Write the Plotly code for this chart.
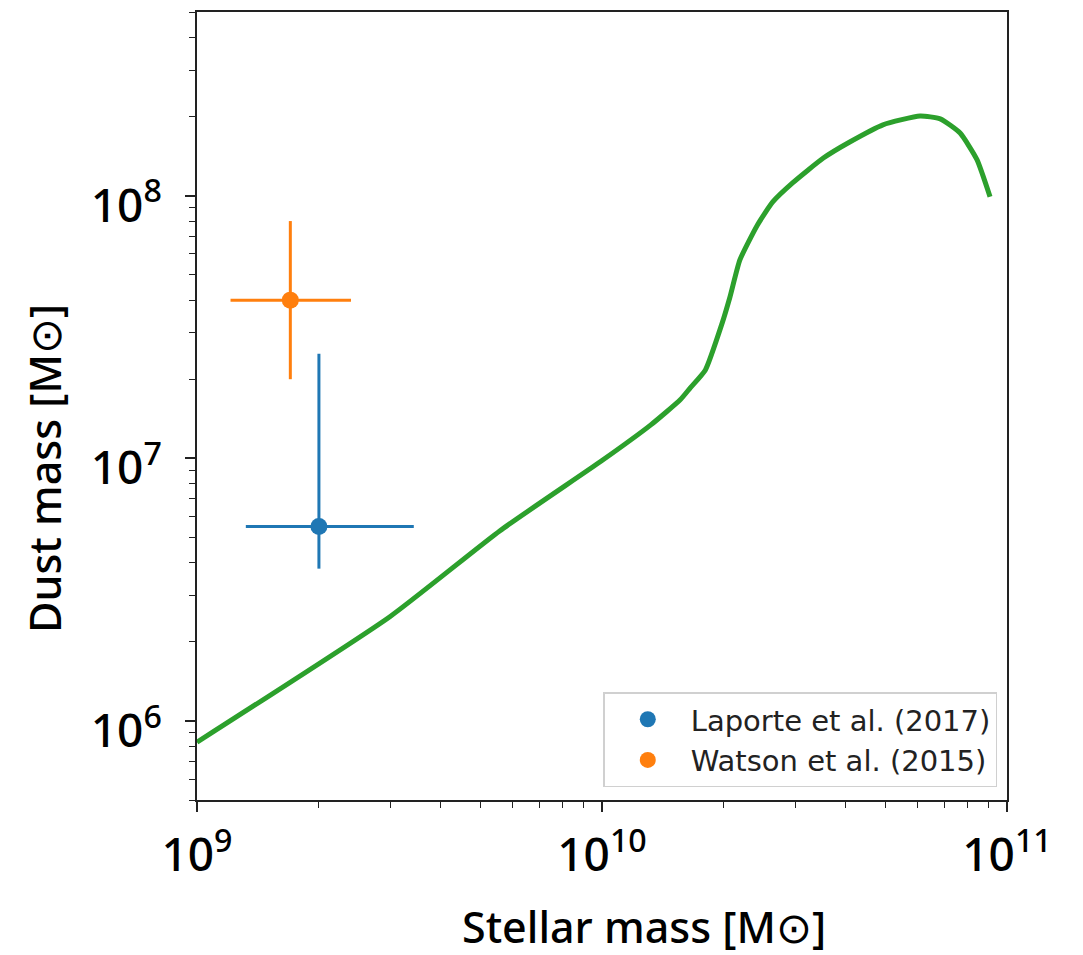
import plotly.graph_objects as go

# Model curve (green)
model_stellar = [1.0e9, 3.0e9, 5.6e9, 1.0e10, 1.32e10, 1.56e10, 1.65e10, 1.8e10, 1.98e10, 2.07e10,
                 2.19e10, 2.42e10, 2.64e10, 2.96e10, 3.52e10, 4.09e10, 4.94e10, 6.1e10, 6.84e10,
                 7.66e10, 8.43e10, 9.08e10]
model_dust = [8.3e5, 2.5e6, 5.3e6, 9.8e6, 1.34e7, 1.67e7, 1.85e7, 2.17e7, 3.27e7, 4.11e7,
              5.69e7, 7.73e7, 9.46e7, 1.12e8, 1.39e8, 1.60e8, 1.86e8, 2.01e8, 1.96e8,
              1.73e8, 1.37e8, 9.9e7]

# Observations
laporte_x = [2.0e9]
laporte_y = [5.5e6]
laporte_xerr_plus = [1.43e9]
laporte_xerr_minus = [0.68e9]
laporte_yerr_plus = [1.95e7]
laporte_yerr_minus = [1.7e6]

watson_x = [1.7e9]
watson_y = [4.0e7]
watson_xerr_plus = [0.7e9]
watson_xerr_minus = [0.49e9]
watson_yerr_plus = [4.0e7]
watson_yerr_minus = [2.0e7]

x_ticks = [1e9, 1e10, 1e11]
x_ticktext = ["10<sup>9</sup>", "10<sup>10</sup>", "10<sup>11</sup>"]
y_ticks = [1e6, 1e7, 1e8]
y_ticktext = ["10<sup>6</sup>", "10<sup>7</sup>", "10<sup>8</sup>"]

x_title = "Stellar mass [M⊙]"
y_title = "Dust mass [M⊙]"

blue = "#1f77b4"
orange = "#ff7f0e"
green = "#2ca02c"

fig = go.Figure()
fig.add_trace(go.Scatter(x=model_stellar, y=model_dust, mode="lines",
                         line=dict(color=green, width=5, shape="spline", smoothing=0.5),
                         showlegend=False))
fig.add_trace(go.Scatter(x=laporte_x, y=laporte_y, mode="markers", name="Laporte et al. (2017)",
                         marker=dict(color=blue, size=17),
                         error_x=dict(type="data", array=laporte_xerr_plus, arrayminus=laporte_xerr_minus,
                                      color=blue, thickness=3, width=0),
                         error_y=dict(type="data", array=laporte_yerr_plus, arrayminus=laporte_yerr_minus,
                                      color=blue, thickness=3, width=0)))
fig.add_trace(go.Scatter(x=watson_x, y=watson_y, mode="markers", name="Watson et al. (2015)",
                         marker=dict(color=orange, size=17),
                         error_x=dict(type="data", array=watson_xerr_plus, arrayminus=watson_xerr_minus,
                                      color=orange, thickness=3, width=0),
                         error_y=dict(type="data", array=watson_yerr_plus, arrayminus=watson_yerr_minus,
                                      color=orange, thickness=3, width=0)))

minor_x = [m * 10**e for e in range(9, 11) for m in range(2, 10)]
minor_y = [m * 10**e for e in range(5, 9) for m in range(2, 10)]

tick_font = dict(family="Noto Sans", size=46, color="black", weight=500)
title_font = dict(family="Noto Sans", size=43, color="black", weight=500)

axis_common = dict(type="log", showgrid=False, zeroline=False, showline=True, linecolor="#222",
                   linewidth=2, mirror=True, ticks="outside", ticklen=10, tickwidth=1.5,
                   tickcolor="#222", tickfont=tick_font, automargin=False)

fig.update_xaxes(**axis_common, range=[9, 11], tickvals=x_ticks, ticktext=x_ticktext,
                 ticklabelstandoff=4,
                 minor=dict(tickvals=minor_x, ticks="outside", ticklen=6, tickwidth=1.2, tickcolor="#222"))
fig.update_yaxes(**axis_common, range=[5.699, 8.699], tickvals=y_ticks, ticktext=y_ticktext,
                 ticklabelstandoff=14, ticklabelshift=10,
                 minor=dict(tickvals=minor_y, ticks="outside", ticklen=6, tickwidth=1.2, tickcolor="#222"))

fig.add_annotation(text=x_title, xref="paper", yref="paper", x=0.552, y=-0.160,
                   xanchor="center", yanchor="middle", showarrow=False, font=title_font)
fig.add_annotation(text=y_title, xref="paper", yref="paper", x=-0.188, y=0.421,
                   xanchor="center", yanchor="middle", showarrow=False, textangle=-90, font=title_font)

fig.update_layout(width=1083, height=955, plot_bgcolor="white", paper_bgcolor="white",
                  margin=dict(l=197, r=76, t=12, b=155),
                  legend=dict(x=0.988, y=0.016, xanchor="right", yanchor="bottom",
                              bgcolor="white", bordercolor="#d0d0d0", borderwidth=1.5,
                              tracegroupgap=0, itemwidth=76,
                              font=dict(family="DejaVu Sans", size=29, color="#222")))

fig.write_html("out.html")
